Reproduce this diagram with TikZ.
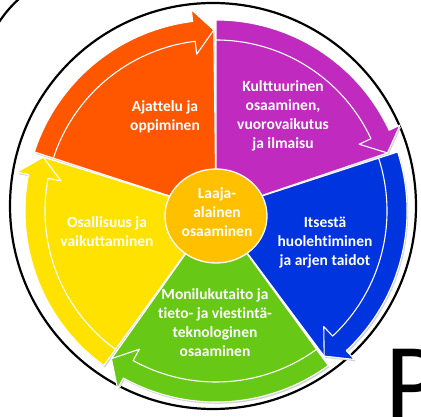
\documentclass[tikz,border=0pt]{standalone}
\usepackage{fontspec}
\usetikzlibrary{shapes.geometric}
\setmainfont{Carlito}[Ligatures=NoCommon]
\definecolor{orng}{RGB}{255,86,0}
\definecolor{purp}{RGB}{192,42,190}
\definecolor{blu}{RGB}{0,52,222}
\definecolor{grn}{RGB}{104,200,22}
\definecolor{yel}{RGB}{255,226,0}
\definecolor{ctr}{RGB}{255,192,0}
\begin{document}
\begin{tikzpicture}[x=1pt,y=1pt,
  lbl/.style={text=white,font=\fontsize{15.5}{19}\selectfont\bfseries,align=center,inner sep=0pt},
  ring/.style={black,line width=2.2pt}]
\useasboundingbox (0,0) rectangle (421,417);
\draw[ring] (213,211) circle[radius=203pt];
\draw[ring] (-3,392) .. controls (5,404) and (11,411) .. (20,419);
\begin{scope}[shift={(216,206)}]
  \foreach \s/\c in {162/orng,90/purp,18/blu,-54/grn,-126/yel}{
    \fill[gray!35,shift={(1.2,-1.8)}] (0,0) -- (\s:191pt) arc[start angle=\s, end angle=\s-65, radius=191pt]
      -- (\s-65:203pt) -- (\s-71.3:181pt) -- cycle;
  }
  \foreach \s/\c in {162/orng,90/purp,18/blu,-54/grn,-126/yel}{
    \filldraw[fill=\c,draw=white,line width=1.1pt,line join=round] (0,0) -- (\s:191pt) arc[start angle=\s, end angle=\s-65, radius=191pt]
      -- (\s-65:203pt) -- (\s-71.3:181pt) -- cycle;
    \draw[white,line width=1.1pt,line join=round] (\s:171pt) arc[start angle=\s, end angle=\s-65, radius=171pt]
      -- (\s-65:158pt) -- (\s-71.3:181pt);
  }
\end{scope}
\node[ellipse,draw=white,line width=1.3pt,fill=ctr,minimum width=102pt,minimum height=94pt,inner sep=0pt] (ctrshape) at (216,201) {};
\node[lbl] (center) at (217,205) {Laaja-\\alainen\\osaaminen};
\node[lbl] (ajattelu) at (165,300) {Ajattelu ja\\oppiminen};
\node[lbl] (kult) at (283,301) {Kulttuurinen\\osaaminen,\\vuorovaikutus\\ja ilmaisu};
\node[lbl] (itse) at (325,174) {Itsestä\\huolehtiminen\\ja arjen taidot};
\node[lbl] (osal) at (107,185) {Osallisuus ja\\vaikuttaminen};
\node[lbl] (moni) at (215,94) {Monilukutaito ja\\tieto- ja viestintä-\\teknologinen\\osaaminen};
\node[anchor=north west,inner sep=0pt,font=\fontsize{108}{108}\selectfont] (pletter) at (385,68) {P};
\end{tikzpicture}
\end{document}
